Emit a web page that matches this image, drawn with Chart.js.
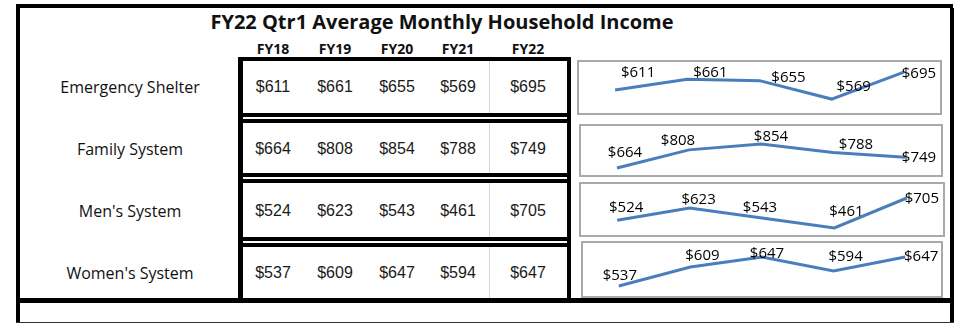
<!DOCTYPE html>
<html>
<head>
<meta charset="utf-8">
<script src="https://cdn.jsdelivr.net/npm/chart.js@4.4.1/dist/chart.umd.min.js"></script>
<style>
  body {
    margin: 0;
    background: #fff;
    width: 959px;
    height: 323px;
    overflow: hidden;
    position: relative;
    font-family: 'Open Sans', sans-serif;
    color: #111;
  }
  .ln { position: absolute; background: #000; }
  .txt { position: absolute; transform: translate(-50%, -50%); white-space: nowrap; line-height: 1; }
  .spark { position: absolute; border: 2px solid #a9a9a9; box-sizing: border-box; background: #fff; }
  .spark canvas { display: block; }
</style>
</head>
<body>
<script>
// Table data
const years = ['FY18', 'FY19', 'FY20', 'FY21', 'FY22'];
const groups = ['Emergency Shelter', 'Family System', "Men's System", "Women's System"];
const emergencyShelter = [611, 661, 655, 569, 695];
const familySystem = [664, 808, 854, 788, 749];
const mensSystem = [524, 623, 543, 461, 705];
const womensSystem = [537, 609, 647, 594, 647];
const rows = [emergencyShelter, familySystem, mensSystem, womensSystem];

// Layout
const rowMid = [87, 149, 211, 273];
const colMid = [273, 335, 397, 458, 528];
const sparkBoxes = [
  [577, 60, 365, 55],
  [579, 124, 364, 53],
  [579, 182, 366, 55],
  [581, 241, 362, 57],
];
// y axis range for each sparkline
const axisLimits = [
  [504, 742],
  [609, 997],
  [404, 819],
  [499, 700],
];
// where each data label sits relative to its point
const labelNudge = [
  [[23, -17], [23, -7], [29, -3], [22, -12], [15, 2]],
  [[8, -15], [-11, -9], [10, -7], [23, -8], [14, 0]],
  [[9, -13], [9, -8], [-2, -10], [12, -16], [15, 1]],
  [[1, -10], [12, -11], [5, -3], [12, -14], [16, 0]],
];

function line(x, y, w, h, color) {
  const d = document.createElement('div');
  d.className = 'ln';
  d.style.left = x + 'px';
  d.style.top = y + 'px';
  d.style.width = w + 'px';
  d.style.height = h + 'px';
  if (color) d.style.background = color;
  document.body.appendChild(d);
}

function text(str, x, y, css) {
  const d = document.createElement('div');
  d.className = 'txt';
  d.textContent = str;
  d.style.left = x + 'px';
  d.style.top = y + 'px';
  Object.assign(d.style, css || {});
  document.body.appendChild(d);
}

// outer frame
line(16, 4, 937, 4);
line(16, 4, 4, 319);
line(950, 8, 4, 315);
line(16, 298, 938, 5);
line(16, 322, 938, 1, '#333');

// table boxes
line(238, 57, 5, 246);
line(567, 57, 4, 246);
[57, 113, 119, 173, 179, 237, 243].forEach((y) => line(238, y, 333, 4));
[[61, 52], [123, 50], [183, 54], [247, 51]].forEach(([y, h]) => line(489, y, 1, h, '#d4d4d4'));

text('FY22 Qtr1 Average Monthly Household Income', 442, 22, {
  fontSize: '20px', fontWeight: 'bold',
});
years.forEach((yr, i) => text(yr, colMid[i], 49, { fontSize: '14px', fontWeight: 'bold' }));

groups.forEach((name, r) => {
  text(name, 130, rowMid[r], { fontSize: '16px' });
  rows[r].forEach((v, i) => {
    text('$' + v, colMid[i], rowMid[r], {
      fontSize: '16px', fontFamily: '"Liberation Sans", Arial, sans-serif', color: '#1a1a1a',
    });
  });
});

// value labels on the sparklines
const sparkLabels = {
  id: 'sparkLabels',
  afterDatasetsDraw(chart, args, opts) {
    const { ctx } = chart;
    const meta = chart.getDatasetMeta(0);
    const values = chart.data.datasets[0].data;
    ctx.save();
    ctx.font = '15px "Open Sans"';
    ctx.fillStyle = '#000';
    ctx.textAlign = 'center';
    ctx.textBaseline = 'middle';
    meta.data.forEach((pt, i) => {
      const [dx, dy] = opts.nudge[i];
      ctx.fillText('$' + values[i], pt.x + dx, pt.y + dy);
    });
    ctx.restore();
  },
};

rows.forEach((values, r) => {
  const [x, y, w, h] = sparkBoxes[r];
  const box = document.createElement('div');
  box.className = 'spark';
  box.style.left = x + 'px';
  box.style.top = y + 'px';
  box.style.width = w + 'px';
  box.style.height = h + 'px';
  const canvas = document.createElement('canvas');
  canvas.width = w - 4;
  canvas.height = h - 4;
  box.appendChild(canvas);
  document.body.appendChild(box);

  new Chart(canvas.getContext('2d'), {
    type: 'line',
    data: {
      labels: years,
      datasets: [
        {
          data: values,
          borderColor: '#4a7ebb',
          borderWidth: 3,
          pointRadius: 0,
          tension: 0,
          clip: false,
        },
      ],
    },
    options: {
      responsive: false,
      animation: false,
      layout: { padding: 0 },
      plugins: {
        legend: { display: false },
        tooltip: { enabled: false },
        sparkLabels: { nudge: labelNudge[r] },
      },
      scales: {
        x: { display: false, offset: true },
        y: { display: false, min: axisLimits[r][0], max: axisLimits[r][1] },
      },
    },
    plugins: [sparkLabels],
  });
});
</script>
</body>
</html>
